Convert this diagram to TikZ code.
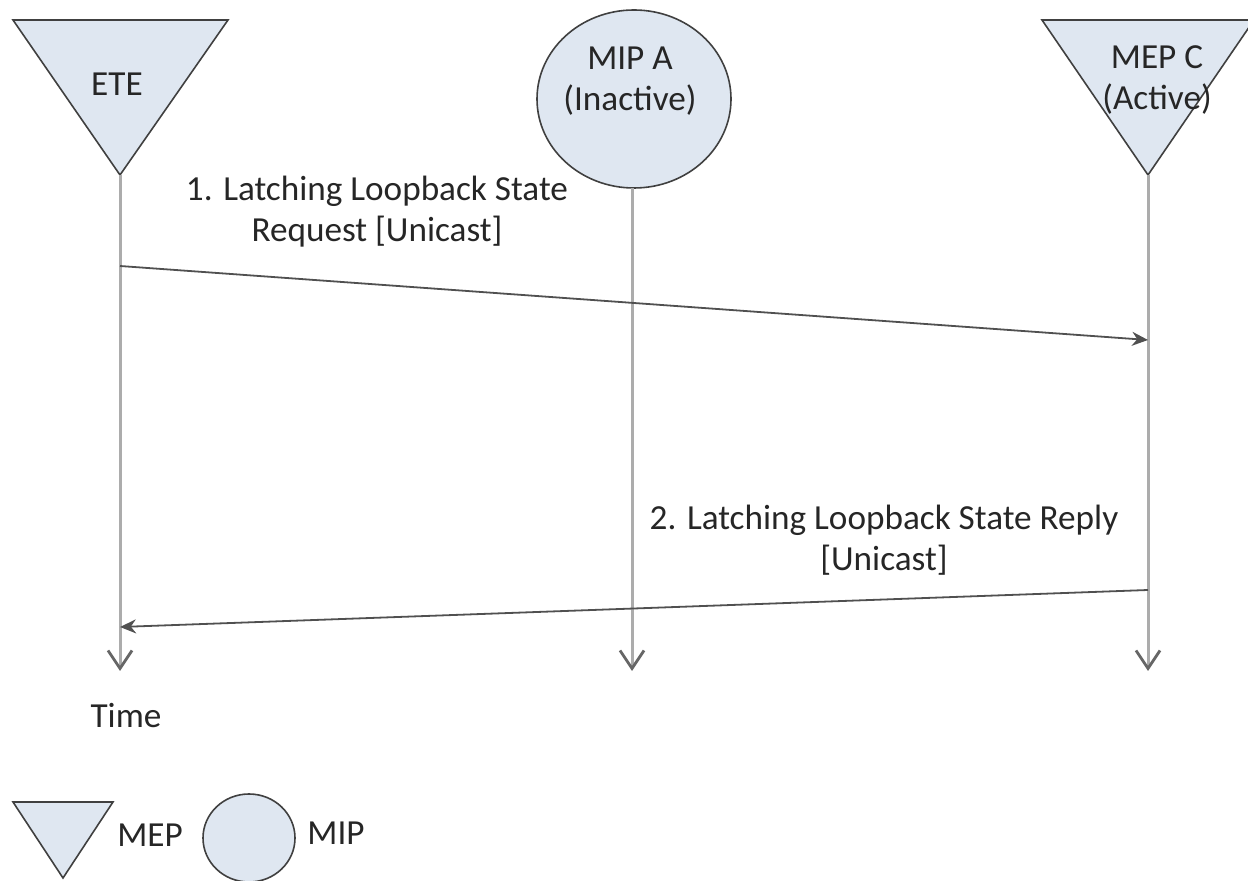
\documentclass[tikz,border=0pt]{standalone}
\usepackage{fontspec}
\setmainfont{Carlito}
\usepackage{tikz}
\usetikzlibrary{arrows.meta}

\definecolor{shapefill}{RGB}{223,231,241}
\definecolor{lifegray}{RGB}{172,172,172}
\definecolor{msggray}{RGB}{80,80,80}

\begin{document}
\begin{tikzpicture}[x=0.5pt,y=0.5pt,yscale=-1,xscale=1,
    every node/.style={font=\fontsize{17.6}{20.5}\selectfont, inner sep=0pt, align=center, text=black!85},
    pointshape/.style={draw=black!75, fill=shapefill, line width=0.8pt, line join=miter},
    lifeline/.style={draw=lifegray, line width=1.5pt, -{Straight Barb[length=9pt,width=12pt,line width=1.4pt,color=black!60]}},
    msg/.style={draw=msggray, line width=0.9pt, -{Stealth[length=8pt,width=7pt]}}]
        \useasboundingbox (0,0) rectangle (1248,881);

        %Shape: Triangle ETE
        \draw[pointshape] (13,20) -- (228,20) -- (120,175) -- cycle ;
        %Shape: Ellipse MIP A
        \draw[pointshape] (634,99) ellipse [x radius=97, y radius=89] ;
        %Shape: Triangle MEP C
        \draw[pointshape] (1042,20) -- (1254,20) -- (1148,175) -- cycle ;

        % Lifeline ends
        \coordinate (eteTop) at (120,175) ;
        \coordinate (eteEnd) at (120,671) ;
        \coordinate (mipTop) at (632,188) ;
        \coordinate (mipEnd) at (632,671) ;
        \coordinate (mepTop) at (1148,175) ;
        \coordinate (mepEnd) at (1148,671) ;
        % Message ends
        \coordinate (reqFrom) at (120,266) ;
        \coordinate (reqTo) at (1148,340) ;
        \coordinate (repFrom) at (1148,590) ;
        \coordinate (repTo) at (120,627) ;

        % Lifelines
        \draw[lifeline] (eteTop) -- (eteEnd) ;
        \draw[lifeline] (mipTop) -- (mipEnd) ;
        \draw[lifeline] (mepTop) -- (mepEnd) ;

        % Messages
        \draw[msg] (reqFrom) -- (reqTo) ;
        \draw[msg] (repFrom) -- (repTo) ;

        % Text Node
        \node (ete) at (117,84) {ETE} ;
        % Text Node
        \node (mipa) at (630,81) {MIP A\\(Inactive)} ;
        % Text Node
        \node (mepc) at (1157,80) {MEP C\\(Active)} ;
        % Text Node
        \node (reqLabel) at (377,212) {1. Latching Loopback State\\Request [Unicast]} ;
        % Text Node
        \node (repLabel) at (884,540) {2. Latching Loopback State Reply\\{}[Unicast]} ;
        % Text Node
        \node (time) at (126,716) {Time} ;

        % Legend
        \draw[pointshape] (13,802) -- (113,802) -- (63,878) -- cycle ;
        \draw[pointshape] (249,838) ellipse [x radius=46, y radius=44] ;
        % Text Node
        \node (mepKey) at (150,835) {MEP} ;
        % Text Node
        \node (mipKey) at (336,833) {MIP} ;
    \end{tikzpicture}
\end{document}
